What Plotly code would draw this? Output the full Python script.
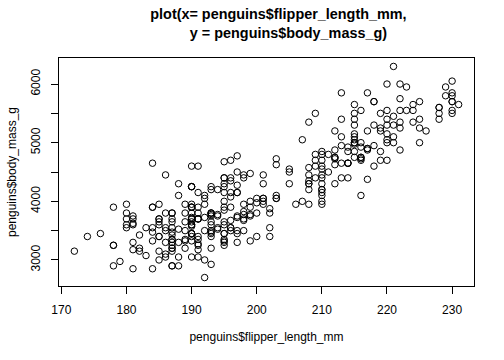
import plotly.graph_objects as go

# Adelie
adelie_flipper = [181,186,195,193,190,181,195,193,190,186,180,182,191,198,185,195,197,184,194,
                  174,180,189,185,180,187,183,187,172,180,178,178,188,184,195,196,190,180,181,184,
                  182,195,186,196,185,190,182,179,190,191,186,188,190,200,187,191,186,193,181,194,
                  185,195,185,192,184,192,195,188,190,198,190,190,196,197,190,195,191,184,187,195,
                  189,196,187,193,191,194,190,189,189,190,202,205,185,186,187,208,190,196,178,192,
                  192,203,183,190,193,184,199,190,181,197,198,191,193,197,191,196,188,199,189,189,
                  187,198,176,202,186,199,191,195,191,210,190,197,193,199,187,190,191,200,185,193,
                  193,187,188,190,192,185,190,184,195,193,187,201]
adelie_mass = [3750,3800,3250,3450,3650,3625,4675,3475,4250,3300,3700,3200,3800,4400,3700,3450,4500,3325,4200,
               3400,3600,3800,3950,3800,3800,3550,3200,3150,3950,3250,3900,3300,3900,3325,4150,3950,3550,3300,4650,
               3150,3900,3100,4400,3000,4600,3425,2975,3450,4150,3500,4300,3450,4050,2900,3700,3550,3800,2850,3750,
               3150,4400,3600,4050,2850,3950,3350,4100,3050,4450,3600,3900,3550,4150,3700,4250,3700,3900,3550,4000,
               3200,4700,3800,4200,3350,3550,3800,3500,3950,3600,3550,4300,3400,4450,3300,4300,3700,4350,2900,4100,
               3725,4725,3075,4250,2925,3550,3750,3900,3175,4775,3825,4600,3200,4275,3900,4075,2900,3775,3350,3325,
               3150,3500,3450,3875,3050,4000,3275,4300,3050,4000,3325,3500,3500,4475,3425,3900,3175,3975,3400,4250,
               3400,3475,3050,3725,3000,3650,4250,3475,3450,3750,3700,4000]

# Gentoo
gentoo_flipper = [211,230,210,218,215,210,211,219,209,215,214,216,214,213,210,217,210,221,209,222,
                  218,215,213,215,215,215,216,215,210,220,222,209,207,230,220,220,213,219,208,208,
                  208,225,210,216,222,217,210,225,213,215,210,220,210,225,217,220,208,220,208,224,
                  208,221,214,231,219,230,214,229,220,223,216,221,221,217,216,230,209,220,215,223,
                  212,221,212,224,212,228,218,218,212,230,218,228,212,224,214,226,216,222,203,225,
                  219,228,215,228,216,215,210,219,208,209,216,229,213,230,217,230,217,222,214,215,
                  222,212,213]
gentoo_mass = [4500,5700,4450,5700,5400,4550,4800,5200,4400,5150,4650,5550,4650,5850,4200,5850,4150,6300,4800,5350,
               5700,5000,4400,5050,5000,5100,4100,5650,4600,5550,5250,4700,5050,6050,5150,5400,4950,5250,4350,5350,
               3950,5700,4300,4750,5550,4900,4200,5400,5100,5300,4850,5300,4400,5000,4900,5050,4300,5000,4450,5550,
               4200,5300,4400,5650,4700,5700,4650,5800,4700,5550,4750,5000,5100,5200,4700,5800,4600,6000,4750,5950,
               4625,5450,4725,5350,4750,5600,4600,5300,4875,5550,4950,5400,4750,5650,4850,5200,4925,4875,4625,5250,
               4850,5600,4975,5500,4725,5500,4700,5500,4575,5500,5000,5950,4650,5500,4375,5850,4875,6000,4925,4850,
               5750,5200,5400]

# Chinstrap
chinstrap_flipper = [192,196,193,188,197,198,178,197,195,198,193,194,185,201,190,201,197,181,190,195,
                     181,191,187,193,195,197,200,200,191,205,187,201,187,203,195,199,195,210,192,205,
                     210,187,196,196,196,201,190,212,187,198,199,201,193,203,187,197,191,203,202,194,
                     206,189,195,207,202,193,210,198]
chinstrap_mass = [3500,3900,3650,3525,3725,3950,3250,3750,4150,3700,3800,3775,3700,4050,3575,4050,3300,3700,3450,4400,
                  3600,3400,2900,3800,3300,4150,3400,3800,3700,4550,3200,4300,3350,4100,3600,3900,3850,4800,2700,4500,
                  3950,3650,3550,3500,3675,4450,3400,4300,3250,3675,3325,3950,3600,4050,3350,3450,3250,4050,3800,3525,
                  3950,3650,3650,4000,3400,3775,4100,3775]

flipper_length_mm = adelie_flipper + gentoo_flipper + chinstrap_flipper
body_mass_g = adelie_mass + gentoo_mass + chinstrap_mass

x_ticks = [170, 180, 190, 200, 210, 220, 230]
y_ticks = [3000, 3500, 4000, 4500, 5000, 5500, 6000]
y_ticklabels = ["3000", "", "4000", "", "5000", "", "6000"]

FONT = "Liberation Sans, Arial, Helvetica, sans-serif"

fig = go.Figure(go.Scatter(
    x=flipper_length_mm, y=body_mass_g, mode="markers",
    marker=dict(symbol="circle-open", size=6.5, color="black", line=dict(width=1, color="black")),
    hoverinfo="x+y",
))

xr = [min(flipper_length_mm), max(flipper_length_mm)]
yr = [min(body_mass_g), max(body_mass_g)]
dx = (xr[1] - xr[0]) * 0.04
dy = (yr[1] - yr[0]) * 0.04

fig.update_layout(
    width=504, height=360,
    margin=dict(l=59, r=30, t=58, b=74),
    paper_bgcolor="white", plot_bgcolor="white",
    font=dict(family=FONT, size=12, color="black"),
    showlegend=False,
    title=dict(
        text="plot(x= penguins$flipper_length_mm,<br>&nbsp;&nbsp;&nbsp;&nbsp;&nbsp;y = penguins$body_mass_g)",
        x=266.5 / 504, xanchor="center", xref="paper",
        y=1 - 19 / 360, yanchor="top", yref="container",
        font=dict(family=FONT, size=14.4, color="black", weight="bold"),
    ),
    xaxis=dict(
        range=[xr[0] - dx, xr[1] + dx], tickvals=x_ticks,
        ticks="outside", ticklen=7, tickwidth=1, tickcolor="black",
        showline=True, linecolor="black", linewidth=1, mirror=True,
        showgrid=False, zeroline=False, ticklabelstandoff=6,
        title=dict(text="penguins$flipper_length_mm", standoff=16, font=dict(size=12)),
    ),
    yaxis=dict(
        range=[yr[0] - dy, yr[1] + dy], tickvals=y_ticks, ticktext=y_ticklabels,
        tickangle=-90,
        ticks="outside", ticklen=7, tickwidth=1, tickcolor="black",
        showline=True, linecolor="black", linewidth=1, mirror=True,
        showgrid=False, zeroline=False, ticklabelstandoff=6,
        title=dict(text="penguins$body_mass_g", standoff=10, font=dict(size=12)),
    ),
)

fig.write_html("out.html")
